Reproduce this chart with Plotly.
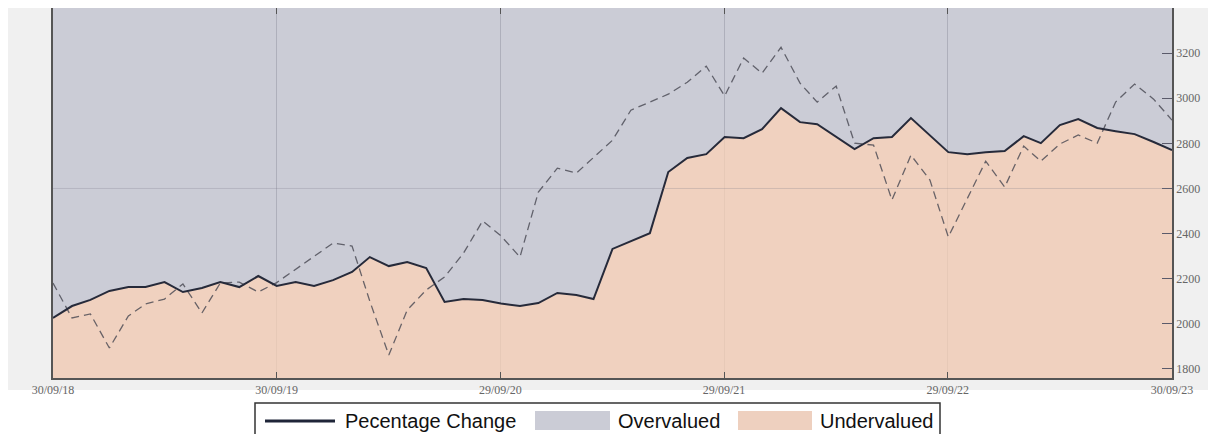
import plotly.graph_objects as go
import pandas as pd

# monthly observations, 30/09/18 .. 30/09/23
dates = pd.date_range("2018-09-30", periods=61, freq="ME")

# solid line (price)
price = [2026, 2079, 2106, 2146, 2163, 2163, 2185, 2141, 2159, 2185, 2163, 2212,
         2168, 2185, 2168, 2194, 2230, 2296, 2256, 2274, 2247, 2097, 2110, 2106,
         2090, 2079, 2092, 2137, 2128, 2110, 2332, 2367, 2402, 2673, 2735, 2752,
         2828, 2823, 2863, 2956, 2894, 2885, 2828, 2775, 2823, 2828, 2912, 2837,
         2761, 2752, 2761, 2766, 2832, 2801, 2881, 2908, 2868, 2854, 2841, 2806,
         2770]

# dashed line (fair value)
fair = [2181, 2026, 2044, 1893, 2035, 2088, 2110, 2177, 2048, 2181, 2185, 2141,
        2183, 2243, 2300, 2358, 2345, 2100, 1862, 2061, 2150, 2208, 2314, 2456,
        2390, 2296, 2584, 2690, 2668, 2739, 2814, 2947, 2983, 3018, 3071, 3142,
        3010, 3178, 3111, 3226, 3067, 2983, 3054, 2801, 2792, 2549, 2748, 2637,
        2385, 2553, 2721, 2606, 2788, 2721, 2797, 2837, 2801, 2983, 3063, 2996,
        2903]

tick_dates = ["2018-09-30", "2019-09-30", "2020-09-29", "2021-09-29", "2022-09-29", "2023-09-30"]
tick_text = ["30/09/18", "30/09/19", "29/09/20", "29/09/21", "29/09/22", "30/09/23"]
y_ticks = [1800, 2000, 2200, 2400, 2600, 2800, 3000, 3200]
legend_names = ["Pecentage Change", "Overvalued", "Undervalued"]

GREY = "#cbccd6"
PEACH = "rgba(253,210,181,0.72)"
PEACH_SOLID = "#eed0bf"
LINE = "#262a3a"
TICKFONT = dict(family="Liberation Serif", size=12, color="#666666")

# the page body has an 8px margin, so the figure starts at (8, 8) of the window
OFF = 8
W, H = 1216 - OFF, 434 - OFF
# plot area in window pixels
L, R, T, B = 53, 1172, 8, 378


def px(x):
    return (x - L) / (R - L)


def py(y):
    return (B - y) / (B - T)


fig = go.Figure()

# area below the price line
fig.add_trace(go.Scatter(x=dates, y=price, mode="none", fill="tozeroy",
                         fillcolor=PEACH, showlegend=False))
fig.add_trace(go.Scatter(x=dates, y=fair, mode="lines", showlegend=False,
                         line=dict(color="rgba(70,70,80,0.8)", width=1.3, dash="8px,5px")))
fig.add_trace(go.Scatter(x=dates, y=price, mode="lines", showlegend=False,
                         line=dict(color=LINE, width=2)))

# light grey panel behind the plot, then the grey plot area
fig.add_shape(type="rect", xref="paper", yref="paper", layer="below",
              x0=px(7), x1=px(1230), y0=py(390), y1=py(5),
              fillcolor="#f0f0f0", line_width=0)
fig.add_shape(type="rect", xref="paper", yref="paper", layer="below",
              x0=0, x1=1, y0=0, y1=1, fillcolor=GREY, line_width=0)
fig.add_hline(y=2600, line=dict(color="rgba(120,120,135,0.25)", width=1), layer="above")

# legend drawn by hand (boxed, wide swatches)
fig.add_shape(type="rect", xref="paper", yref="paper",
              x0=px(255), x1=px(940), y0=py(445), y1=py(403),
              fillcolor="white", line=dict(color="#333333", width=1.5))
fig.add_shape(type="line", xref="paper", yref="paper",
              x0=px(265), x1=px(335), y0=py(421), y1=py(421),
              line=dict(color="#1f2538", width=3))
fig.add_shape(type="rect", xref="paper", yref="paper",
              x0=px(535), x1=px(610), y0=py(430), y1=py(411),
              fillcolor=GREY, line_width=0)
fig.add_shape(type="rect", xref="paper", yref="paper",
              x0=px(738), x1=px(812), y0=py(430), y1=py(411),
              fillcolor=PEACH_SOLID, line_width=0)
for name, x0 in zip(legend_names, [343, 616, 818]):
    fig.add_annotation(text=name, xref="paper", yref="paper", x=px(x0), y=py(421),
                       xanchor="left", yanchor="middle", showarrow=False,
                       font=dict(family="Liberation Sans", size=20, color="#111111"))

fig.update_layout(
    width=W, height=H,
    margin=dict(l=L - OFF, r=W - (R - OFF), t=T - OFF, b=H - (B - OFF), autoexpand=False),
    paper_bgcolor="white", plot_bgcolor="rgba(0,0,0,0)",
    font=dict(family="Liberation Sans"),
    showlegend=False,
)
fig.update_xaxes(range=["2018-09-30", "2023-09-30"], tickvals=tick_dates, ticktext=tick_text,
                 tickfont=TICKFONT, showgrid=True, gridcolor="rgba(140,140,155,0.45)",
                 ticks="inside", ticklen=6, tickcolor="#555", mirror="ticks",
                 showline=True, linecolor="#555", linewidth=1.5, zeroline=False)
fig.update_yaxes(range=[1760, 3400], tickvals=y_ticks, side="right", tickfont=TICKFONT,
                 showgrid=False, ticks="inside", ticklen=10, tickcolor="#5a5a6a",
                 showline=True, linecolor="#555", linewidth=1.5, mirror=True, zeroline=False)

fig.write_html("out.html")
